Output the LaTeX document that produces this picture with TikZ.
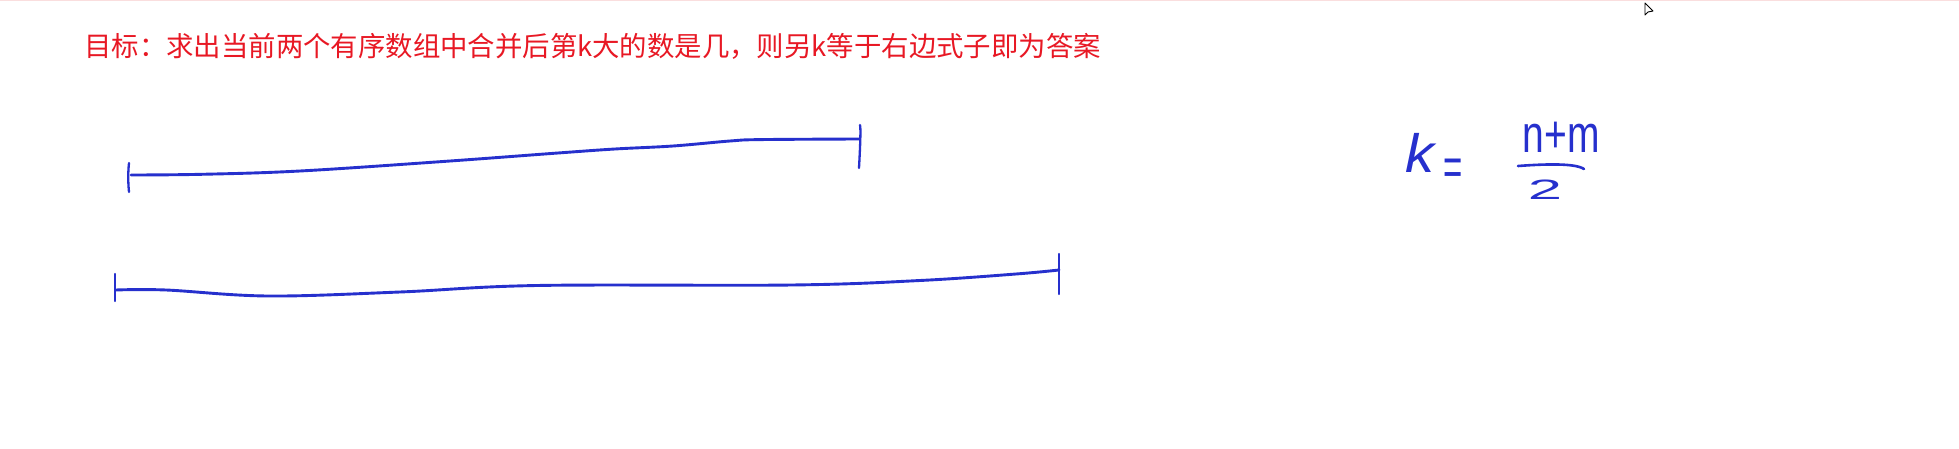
\documentclass[tikz,border=0pt]{standalone}
\usepackage{fontspec}
\usepackage{graphicx}
\newfontfamily\cjk{Noto Sans CJK SC}
\newfontfamily\hand{Liberation Sans}
\definecolor{titlered}{RGB}{232,24,36}
\definecolor{penblue}{RGB}{38,48,205}
\definecolor{topline}{RGB}{250,222,222}
\tikzset{
  penline/.style={draw=penblue, line width=2.9pt, line cap=round, line join=round},
  pentick/.style={draw=penblue, line width=2.3pt, line cap=round},
  pentext/.style={text=penblue, inner sep=0pt}
}
\begin{document}
\begin{tikzpicture}[x=1pt,y=-1pt]
\useasboundingbox[fill=white] (0,0) rectangle (1959,449);
\draw[topline, line width=1.5pt] (0,0.75) -- (1959,0.75);
% title
\node[anchor=west, inner sep=0pt, text=titlered, font=\cjk\fontsize{27.4}{30}\selectfont] (title) at (84,46)
  {目标：求出当前两个有序数组中合并后第k大的数是几，则另k等于右边式子即为答案};
% first segment
\draw[penline] plot[smooth, tension=0.6] coordinates {(131,175) (202,174.3) (300,171) (443,161.5) (558,153) (615,149) (673,146) (730,141) (760,139.6) (859,139)};
\draw[pentick] (129,163) .. controls (128,172) and (128,182) .. (129,192);
\draw[pentick] (860,125) .. controls (861,128) and (860,150) .. (859,168);
% second segment
\draw[penline] plot[smooth, tension=0.6] coordinates {(116,290) (166,290) (268,296) (400,292) (537,285.5) (792,285) (920,280.5) (1016,274) (1059,270)};
\draw[pentick] (115,274) -- (115,301);
\draw[pentick] (1059,254) -- (1059,294);
% formula
\node[pentext] (k) at (1420,152.5) {\scalebox{1.45}[1.35]{\hand\itshape\fontsize{40}{40}\selectfont k}};
\node[pentext] (eq) at (1453,172) {\scalebox{1.1}[1.8]{\hand\fontsize{30}{30}\selectfont =}};
\node[pentext] (num) at (1561,137) {\scalebox{1}[1.35]{\hand\fontsize{39}{39}\selectfont n+m}};
\draw[penline, line width=2.6pt] (1518,166) .. controls (1545,164) and (1575,163) .. (1584,169);
\node[pentext] (two) at (1545,190) {\scalebox{2.2}[1]{\hand\fontsize{28}{28}\selectfont 2}};
% cursor
\draw[black, line width=0.9pt, fill=white, line join=round] (1645,3) -- (1645,15) -- (1648,12) -- (1653,11) -- cycle;
\end{tikzpicture}
\end{document}
